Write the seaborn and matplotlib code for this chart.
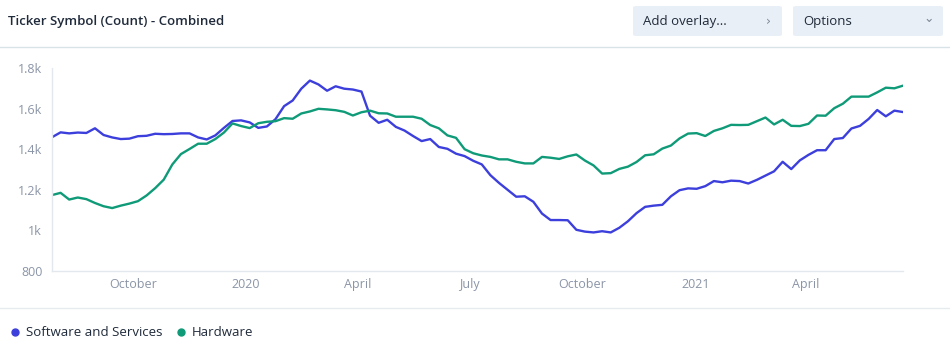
import matplotlib
matplotlib.use("Agg")
import matplotlib.pyplot as plt
from matplotlib.patches import FancyBboxPatch
from matplotlib.lines import Line2D
import seaborn as sns
import pandas as pd

# ---------------- data ----------------
start_date = "2019-07-27"
n_weeks = 100
series_names = ["Software and Services", "Hardware"]
software = [1459, 1483, 1478, 1482, 1480, 1503, 1470, 1458, 1450, 1452,
            1464, 1466, 1476, 1474, 1475, 1478, 1478, 1458, 1448, 1468,
            1505, 1539, 1542, 1532, 1505, 1512, 1548, 1612, 1640, 1698,
            1738, 1719, 1688, 1710, 1698, 1694, 1684, 1565, 1530, 1545,
            1510, 1492, 1465, 1440, 1450, 1411, 1402, 1378, 1366, 1343,
            1325, 1272, 1234, 1200, 1166, 1168, 1141, 1083, 1051, 1051,
            1050, 1003, 994, 990, 996, 990, 1013, 1045, 1085, 1116,
            1122, 1126, 1168, 1198, 1207, 1205, 1218, 1243, 1237, 1245,
            1243, 1231, 1249, 1270, 1291, 1338, 1302, 1345, 1372, 1395,
            1395, 1450, 1455, 1502, 1515, 1549, 1593, 1562, 1590, 1583]
hardware = [1174, 1185, 1152, 1162, 1154, 1135, 1119, 1110, 1122, 1132,
            1144, 1172, 1208, 1250, 1325, 1376, 1401, 1427, 1427, 1450,
            1482, 1527, 1514, 1504, 1528, 1535, 1538, 1553, 1550, 1576,
            1586, 1599, 1596, 1592, 1584, 1566, 1582, 1590, 1577, 1576,
            1560, 1560, 1560, 1550, 1519, 1503, 1468, 1456, 1400, 1380,
            1369, 1362, 1350, 1350, 1338, 1330, 1330, 1362, 1358, 1352,
            1365, 1374, 1344, 1320, 1280, 1282, 1303, 1314, 1337, 1370,
            1375, 1403, 1418, 1453, 1477, 1479, 1465, 1490, 1503, 1520,
            1519, 1520, 1538, 1556, 1522, 1545, 1515, 1514, 1525, 1566,
            1565, 1602, 1624, 1659, 1659, 1659, 1680, 1703, 1700, 1713]
y_ticks = [800, 1000, 1200, 1400, 1600, 1800]
y_labels = ["800", "1k", "1.2k", "1.4k", "1.6k", "1.8k"]
x_ticks = ["2019-10-01", "2020-01-01", "2020-04-01", "2020-07-01",
           "2020-10-01", "2021-01-01", "2021-04-01"]
x_labels = ["October", "2020", "April", "July", "October", "2021", "April"]
title = "Ticker Symbol (Count) - Combined"
colors = ["#3c3fdb", "#0f9a78"]

dates = pd.date_range(start_date, periods=n_weeks, freq="7D")
df = pd.concat([
    pd.DataFrame({"date": dates, "value": software, "series": series_names[0]}),
    pd.DataFrame({"date": dates, "value": hardware, "series": series_names[1]}),
])

# ---------------- figure ----------------
sns.set_style("white")
plt.rcParams["font.family"] = ["Open Sans", "DejaVu Sans"]

W, H = 950, 354
fig = plt.figure(figsize=(W / 100, H / 100), dpi=100)
ax = fig.add_axes([52 / W, (H - 271) / H, (903 - 52) / W, (271 - 68) / H])

sns.lineplot(data=df, x="date", y="value", hue="series", palette=colors,
             linewidth=1.7, ax=ax, legend=False)

ax.set_ylim(800, 1800)
ax.set_xlim(pd.Timestamp(start_date), dates[-1])
ax.set_yticks(y_ticks)
ax.set_yticklabels(y_labels)
ax.set_xticks([pd.Timestamp(d) for d in x_ticks])
ax.set_xticklabels(x_labels)
ax.set_xlabel("")
ax.set_ylabel("")
for s in ["top", "right"]:
    ax.spines[s].set_visible(False)
for s in ["left", "bottom"]:
    ax.spines[s].set_color("#e3e8ee")
    ax.spines[s].set_linewidth(1)
ax.tick_params(axis="both", colors="#e3e8ee", labelcolor="#8b95a7",
               labelsize=9, length=4, width=1, pad=3)
ax.tick_params(axis="x", pad=1)
ax.grid(False)
ax.patch.set_alpha(0)

# header
fig.text(8 / W, 1 - 21 / H, title, fontsize=9.5, fontweight="semibold",
         color="#1f2a3a", va="center", ha="left")
for (x0, x1, label, chev, dy) in [(633, 782, "Add overlay...", "\u203a", 0),
                                  (793, 943, "Options", "\u2304", 2)]:
    box = FancyBboxPatch((x0 / W, 1 - 36 / H), (x1 - x0) / W, 30 / H,
                         boxstyle="round,pad=0,rounding_size=0.004",
                         transform=fig.transFigure, facecolor="#e9eff6",
                         edgecolor="none")
    fig.patches.append(box)
    fig.text((x0 + 10) / W, 1 - 21 / H, label, fontsize=9.5, color="#1f2a3a",
             va="center", ha="left", fontweight="medium")
    fig.text((x1 - 14) / W, 1 - (21 - dy) / H, chev, fontsize=9, color="#7d8797",
             va="center", ha="center", family=["DejaVu Sans"])

fig.add_artist(Line2D([0, 1], [1 - 47 / H] * 2, transform=fig.transFigure,
                      color="#d8e3e8", linewidth=1))
fig.add_artist(Line2D([0, 1], [1 - 308 / H] * 2, transform=fig.transFigure,
                      color="#e6ebef", linewidth=1))

# legend
legend_x = [15, 181]
for lx, name, c in zip(legend_x, series_names, colors):
    fig.add_artist(Line2D([lx / W], [1 - 332 / H], transform=fig.transFigure,
                          marker="o", markersize=5, color=c, linestyle="none"))
    fig.text((lx + 11) / W, 1 - 332 / H, name, fontsize=9.5, color="#1f2a3a",
             va="center", ha="left")

fig.savefig("out.png", dpi=100, facecolor="white")
